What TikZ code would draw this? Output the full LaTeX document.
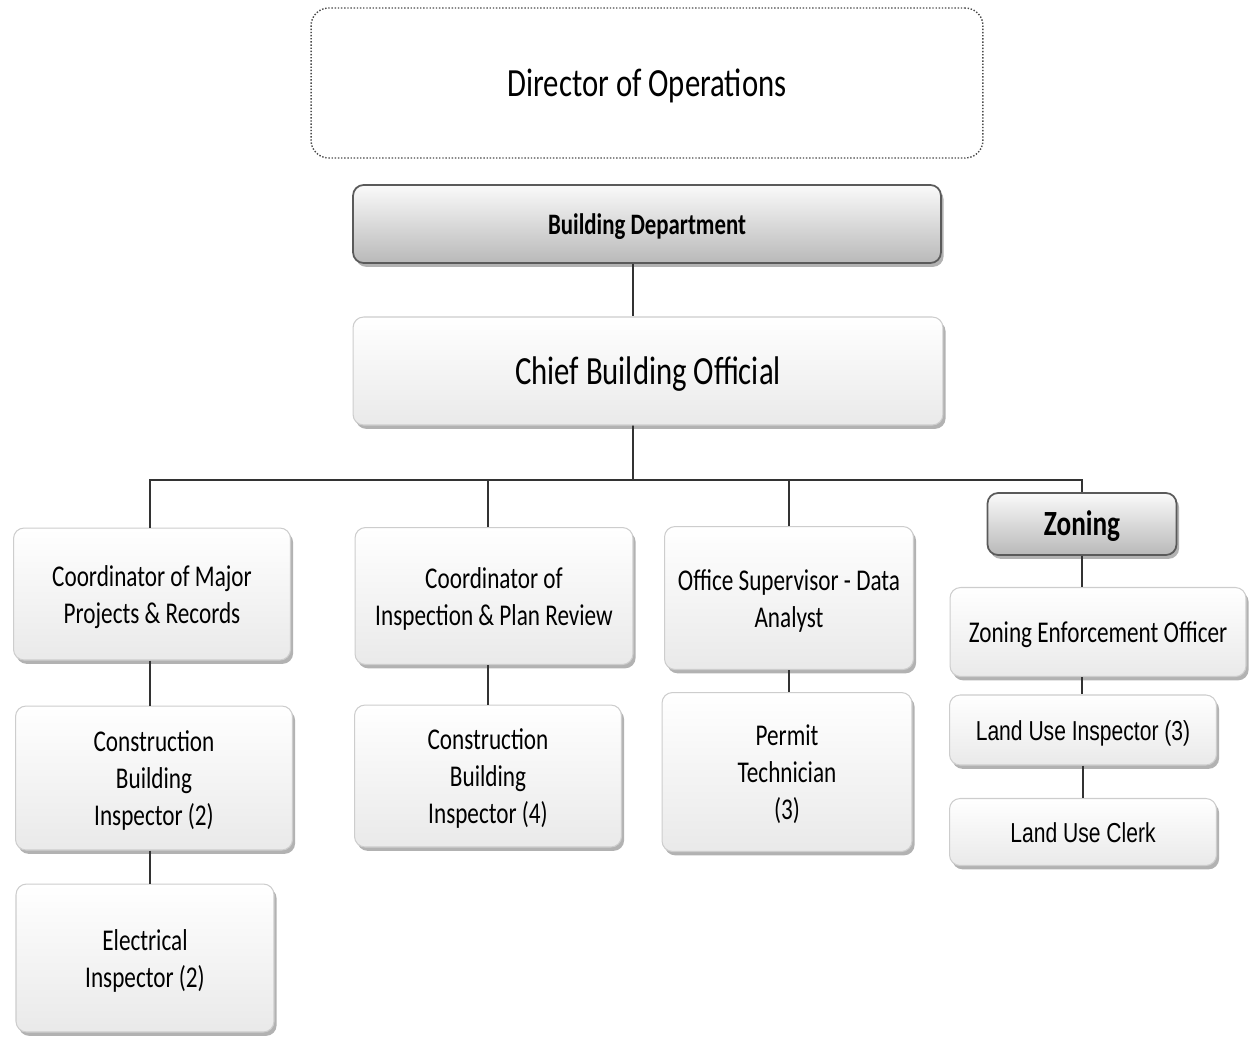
\documentclass[tikz,border=0pt]{standalone}
\usepackage{fontspec}
\setmainfont{Carlito}
\newfontfamily\arialfont{Liberation Sans}
\usepackage{graphicx}
\usetikzlibrary{shadows}

\definecolor{linegray}{HTML}{333333}
\definecolor{boxedge}{HTML}{CDCDCD}
\definecolor{headedge}{HTML}{5A5A5A}

% text in the chart is drawn a little taller than wide
\newcommand\tallt[1]{\raisebox{-2pt}[\height][\depth]{\scalebox{1}[1.3]{\begin{tabular}{@{}c@{}}#1\end{tabular}}}}

\begin{document}
\begin{tikzpicture}[x=0.02cm,y=-0.02cm,
	box/.style={shape=rectangle,rounded corners=6pt,draw=boxedge,line width=0.6pt,
		top color=white,bottom color=gray!17,inner sep=0pt,
		drop shadow={shadow xshift=1.5pt,shadow yshift=-2.2pt,fill=gray!60,opacity=1},
		font=\fontsize{13.2}{16.2}\selectfont},
	head/.style={box,draw=headedge,line width=1pt,top color=gray!4,bottom color=gray!55,
		font=\bfseries\fontsize{13}{16}\selectfont},
	link/.style={draw=linegray,line width=1.1pt}]
	
	\useasboundingbox (0,0) rectangle (1251,1036);
	
	\node[shape=rectangle,rounded corners=10pt,draw=gray!60!black,densely dotted,line width=0.8pt,
		fill=white,minimum width=13.44cm,minimum height=3cm,
		font=\fontsize{17.5}{21}\selectfont] (dir) at (647,83) {\tallt{Director of Operations}};
	\node[head,minimum width=11.76cm,minimum height=1.56cm] (bd) at (647,224) {\tallt{Building Department}};
	\node[box,minimum width=11.8cm,minimum height=2.16cm,
		font=\fontsize{17.5}{21}\selectfont] (cbo) at (648,371) {\tallt{Chief Building Official}};
	
	\node[box,minimum width=5.54cm,minimum height=2.64cm] (cmpr) at (152,594) {\tallt{Coordinator of Major\\Projects \& Records}};
	\node[box,minimum width=5.56cm,minimum height=2.74cm] (cipr) at (494,596) {\tallt{Coordinator of\\Inspection \& Plan Review}};
	\node[box,minimum width=4.98cm,minimum height=2.86cm] (osda) at (789,598) {\tallt{Office Supervisor - Data\\Analyst}};
	\node[head,minimum width=3.78cm,minimum height=1.24cm,
		font=\bfseries\fontsize{15.5}{18}\selectfont] (zon) at (1082,524) {\tallt{Zoning}};
	
	\node[box,minimum width=5.54cm,minimum height=2.88cm] (cbi2) at (154,778) {\tallt{Construction\\Building\\Inspector (2)}};
	\node[box,minimum width=5.16cm,minimum height=2.96cm] (ei) at (145,958) {\tallt{Electrical\\Inspector (2)}};
	\node[box,minimum width=5.34cm,minimum height=2.84cm] (cbi4) at (488,776) {\tallt{Construction\\Building\\Inspector (4)}};
	\node[box,minimum width=5cm,minimum height=3.18cm] (pt) at (787,772) {\tallt{Permit\\Technician\\(3)}};
	\node[box,minimum width=5.92cm,minimum height=1.78cm] (zeo) at (1098,632) {\tallt{Zoning Enforcement Officer}};
	\node[box,minimum width=5.34cm,minimum height=1.4cm,
		font=\arialfont\fontsize{12}{15}\selectfont] (lui) at (1083,730) {\tallt{Land Use Inspector (3)}};
	\node[box,minimum width=5.34cm,minimum height=1.34cm,
		font=\arialfont\fontsize{12}{15}\selectfont] (luc) at (1083,832) {\tallt{Land Use Clerk}};
	
	% reporting lines
	\coordinate (bus) at (633,480);
	\draw[link] ([xshift=-0.28cm]bd.south) -- ([xshift=-0.3cm]cbo.north);
	\draw[link] ([xshift=-0.3cm]cbo.south) -- (bus);
	\draw[link] ([xshift=-0.04cm]cmpr.north) |- (bus) -| (zon.north);
	\draw[link] ([xshift=-0.12cm]cipr.north) -- ([xshift=-0.12cm]cipr.north |- bus);
	\draw[link] (osda.north) -- (osda.north |- bus);
	\draw[link] ([xshift=-0.04cm]cmpr.south) -- ([xshift=-0.04cm]cmpr.south |- cbi2.north);
	\draw[link] ([xshift=-0.04cm]cmpr.south |- cbi2.south) -- ([xshift=-0.04cm]cmpr.south |- ei.north);
	\draw[link] (cbi4.north |- cipr.south) -- (cbi4.north);
	\draw[link] (osda.south) -- (osda.south |- pt.north);
	\draw[link] (zon.south) -- (zon.south |- zeo.north);
	\draw[link] (zon.south |- zeo.south) -- (zon.south |- lui.north);
	\draw[link] (lui.south) -- (luc.north);
	
\end{tikzpicture}
\end{document}
